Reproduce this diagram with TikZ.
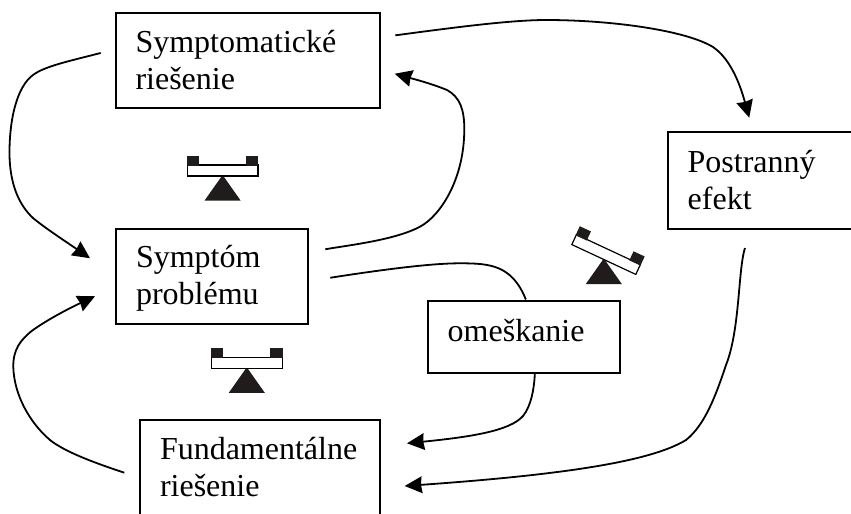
\documentclass[tikz,border=0pt]{standalone}
\usepackage{fontspec}
\setmainfont{Liberation Serif}
\usetikzlibrary{arrows.meta}
\newlength{\du}
\setlength{\du}{0.75pt}
\definecolor{balancecolor}{rgb}{0.130000, 0.110000, 0.110000}
\tikzset{
  diagbox/.style={draw, line width=2\du, fill=white, anchor=north west, inner xsep=20\du, inner ysep=0pt,
    align=left, font=\fontsize{24}{28}\selectfont},
  conn/.style={line width=1.8\du, -{Stealth[length=13pt,width=12.5pt,inset=0.8pt]}},
  plainconn/.style={line width=1.8\du}
}
\newcommand{\drawbalance}[3]{%
  \begin{scope}[shift={(#1\du,#2\du)}]
    \fill[balancecolor] (-18\du,24.5\du)--(18\du,24.5\du)--(0\du,-1\du)--cycle;
    \begin{scope}[rotate=#3]
      \draw[line width=1.2\du, fill=white] (-35.3\du,0\du) rectangle (35.3\du,-11\du);
      \fill[balancecolor] (-35.8\du,-10\du) rectangle (-23.5\du,-20\du);
      \fill[balancecolor] (23.5\du,-10\du) rectangle (35.8\du,-20\du);
    \end{scope}
  \end{scope}}

\begin{document}
\begin{tikzpicture}
\pgftransformxscale{1.000000}
\pgftransformyscale{-1.000000}
\clip (0\du,0\du) rectangle (851\du,514\du);
\useasboundingbox (0\du,0\du) rectangle (851\du,514\du);

% boxes
\node[diagbox, text width=224.5\du, text height=40\du, text depth=55.5\du] (symptomatic) at (114.5\du,11.5\du) {Symptomatické\\riešenie};
\node[diagbox, text width=152\du, text height=39\du, text depth=56.5\du] (symptom) at (115\du,227.5\du) {Symptóm\\problému};
\node[diagbox, text width=200\du, text height=39\du, text depth=70\du] (fundamental) at (139\du,419\du) {Fundamentálne\\riešenie};
\node[diagbox, text width=152.3\du, text height=41\du, text depth=31.2\du] (delay) at (426.7\du,299.5\du) {omeškanie};
\node[diagbox, text width=173.3\du, text height=40\du, text depth=56.5\du] (sideeffect) at (666.7\du,131\du) {Postranný\\efekt};

% balances
\drawbalance{222.6}{176}{0}
\drawbalance{246.8}{368.3}{0}
\drawbalance{603.8}{259.5}{25}

% connectors
\draw[conn] ([shift={(-13.8\du,-7.3\du)}]symptomatic.west) .. controls (70\du,61\du) and (45\du,66\du) .. (33\du,75\du)
  .. controls (18\du,86\du) and (10\du,115\du) .. (9.5\du,150\du)
  .. controls (9\du,185\du) and (20\du,206\du) .. (33\du,218\du)
  .. controls (45\du,228\du) and (65\du,241\du) .. ([shift={(-25\du,-18\du)}]symptom.west);
\draw[conn] ([shift={(14.3\du,-24.9\du)}]symptomatic.east) .. controls (450\du,28\du) and (510\du,20\du) .. (546\du,20\du)
  .. controls (610\du,20\du) and (685\du,30\du) .. (713\du,47\du)
  .. controls (732\du,60\du) and (741\du,88\du) .. ([shift={(-25.1\du,-13.3\du)}]sideeffect.north);
\draw[conn] ([shift={(16.3\du,-27\du)}]symptom.east) .. controls (350\du,245\du) and (395\du,240\du) .. (420\du,226.7\du)
  .. controls (440\du,216\du) and (464\du,180\du) .. (464.3\du,130\du)
  .. controls (464.5\du,110\du) and (460\du,97\du) .. (447\du,90\du)
  .. controls (430\du,83\du) and (410\du,78\du) .. ([shift={(13.7\du,13.5\du)}]symptomatic.east);
\draw[plainconn] ([shift={(21.3\du,1.5\du)}]symptom.east) .. controls (380\du,270\du) and (430\du,263.3\du) .. (460\du,263.3\du)
  .. controls (490\du,263.3\du) and (512\du,265\du) .. ([xshift=2\du]delay.north);
\draw[conn] ([xshift=11\du]delay.south) .. controls (534\du,390\du) and (531\du,406\du) .. (523\du,416\du)
  .. controls (510\du,431\du) and (470\du,437\du) .. ([shift={(26\du,24.3\du)}]fundamental.north east);
\draw[conn] ([shift={(-29.4\du,18.5\du)}]sideeffect.south) .. controls (738\du,270\du) and (740\du,330\du) .. (726\du,365\du)
  .. controls (716\du,395\du) and (705\du,425\du) .. (686\du,440\du)
  .. controls (650\du,462\du) and (560\du,475\du) .. ([shift={(23.7\du,67\du)}]fundamental.north east);
\draw[conn] ([shift={(-14.7\du,53.7\du)}]fundamental.north west) .. controls (95\du,463\du) and (65\du,452\du) .. (50\du,440\du)
  .. controls (30\du,423\du) and (14\du,395\du) .. (13.3\du,367\du)
  .. controls (13\du,350\du) and (20\du,340\du) .. (33\du,330\du)
  .. controls (50\du,318\du) and (72\du,307\du) .. ([shift={(-20\du,20\du)}]symptom.west);
\end{tikzpicture}
\end{document}
